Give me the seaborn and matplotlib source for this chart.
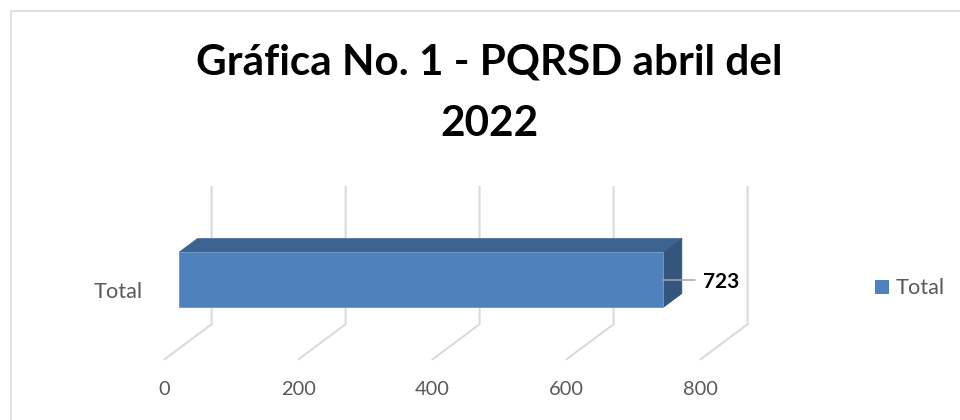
import matplotlib
matplotlib.use("Agg")
import matplotlib.pyplot as plt
import seaborn as sns
import pandas as pd
from matplotlib.patches import Polygon, Patch
from matplotlib.lines import Line2D

# ---------------- data ----------------
categories = ["Total"]
values = [723]
series_name = "Total"
x_ticks = [0, 200, 400, 600, 800]
title_lines = ["Gráfica No. 1 - PQRSD abril del", "2022"]

# ---------------- style ----------------
sns.set_theme(style="white")
plt.rcParams["font.family"] = ["Lato", "DejaVu Sans"]

FRONT = "#4F81BD"
TOP = "#3D6490"
SIDE = "#33557E"
EDGE = "#7098CC"
GRID = "#D9D9D9"
TXT = "#595959"

W, H = 960, 420
fig = plt.figure(figsize=(W / 100, H / 100), dpi=100)
fig.patch.set_facecolor("white")


def fx(px):
    return px / W


def fy(py):
    return 1 - py / H


# axes = front plane of the bar (pixel layout)
AX_L, AX_R, AX_T, AX_B = 179, 715, 170, 370
ax = fig.add_axes([fx(AX_L), fy(AX_B), (AX_R - AX_L) / W, (AX_B - AX_T) / H])

df = pd.DataFrame({"cat": categories, "val": values})
sns.barplot(data=df, x="val", y="cat", orient="h", color=FRONT, width=0.8,
            saturation=1, edgecolor=EDGE, linewidth=0.7, ax=ax, zorder=3)

ax.set_xlim(x_ticks[0], x_ticks[-1])
Y0, YS = 279.8, 68.75  # pixel row of category centre, pixels per category unit
ax.set_ylim((AX_B - Y0) / YS, (AX_T - Y0) / YS)
ax.axis("off")

XS = (AX_R - AX_L) / (x_ticks[-1] - x_ticks[0])  # pixels per value unit
DXD = -47.3 / XS   # depth displacement (value units) per unit depth toward viewer
DYD = 35.3 / YS    # depth displacement (category units, downward)
D_FRONT, D_BACK = 0.69, 0.30


def P(v, y, d):
    return (v + (d - D_FRONT) * DXD, y + (d - D_FRONT) * DYD)


# back wall gridlines + floor lines
for t in x_ticks:
    pts = [P(t, -1, 0), P(t, 1, 0), P(t, 1, 1)]
    xs, ys = zip(*pts)
    ax.plot(xs, ys, color=GRID, lw=1.4, zorder=0, clip_on=False,
            solid_joinstyle="miter")

# 3D faces of the bar, derived from seaborn's bar
for rect in ax.patches:
    x0, w = rect.get_x(), rect.get_width()
    ya, yb = rect.get_y(), rect.get_y() + rect.get_height()
    ytop, ybot = min(ya, yb), max(ya, yb)
    top = Polygon([P(x0, ytop, D_FRONT), P(x0 + w, ytop, D_FRONT),
                   P(x0 + w, ytop, D_BACK), P(x0, ytop, D_BACK)],
                  closed=True, facecolor=TOP, edgecolor=TOP, lw=0.5,
                  zorder=2, clip_on=False)
    side = Polygon([P(x0 + w, ytop, D_FRONT), P(x0 + w, ybot, D_FRONT),
                    P(x0 + w, ybot, D_BACK), P(x0 + w, ytop, D_BACK)],
                   closed=True, facecolor=SIDE, edgecolor=SIDE, lw=0.5,
                   zorder=2, clip_on=False)
    ax.add_patch(top)
    ax.add_patch(side)
    rect.set_clip_on(False)
    yc = (ya + yb) / 2
    # leader line and value label
    ax.plot([x0 + w, x0 + w + 32 / XS], [yc, yc], color="#A6A6A6", lw=1.1,
            zorder=4, clip_on=False)
    val_txt = ax.text(x0 + w + 40 / XS, yc + 2.5 / YS, f"{w:g}", ha="left",
                      va="center", fontsize=16, fontweight="bold",
                      color="black", clip_on=False)

# category label
cat_txts = []
for i, c in enumerate(categories):
    cx, cy = P(0, i, 1)
    cat_txts.append(ax.text(cx - 22 / XS, cy + 1 / YS, c, ha="right",
                            va="center", fontsize=15, color=TXT))

# value axis tick labels
tick_txts = []
for t in x_ticks:
    px, py = P(t, 1, 1)
    tick_txts.append(ax.text(px, py + 30 / YS, f"{t}", ha="center",
                             va="center", fontsize=15, color=TXT,
                             clip_on=False))

# title
t1 = fig.text(fx(489.5), fy(75), title_lines[0], ha="center", va="baseline",
              fontsize=30, fontweight="bold", color="black")
t2 = fig.text(fx(490), fy(136), title_lines[1], ha="center", va="baseline",
              fontsize=30, fontweight="bold", color="black")

# legend
leg = fig.legend(handles=[Patch(facecolor=FRONT, edgecolor="none")],
                 labels=[series_name], loc="center left",
                 bbox_to_anchor=(fx(875), fy(288)), frameon=False,
                 handlelength=0.65, handleheight=0.65, handletextpad=0.35,
                 borderaxespad=0, borderpad=0, fontsize=15,
                 labelcolor=TXT)

# chart-area border (top and left visible)
fig.add_artist(Line2D([fx(10.5), 1], [fy(10.5), fy(10.5)],
                      transform=fig.transFigure, color=GRID, lw=1.1))
fig.add_artist(Line2D([fx(10.5), fx(10.5)], [fy(10.5), 0],
                      transform=fig.transFigure, color=GRID, lw=1.1))

# fit font sizes to measured widths
r = fig.canvas.get_renderer()


def fit(txt, target):
    w = txt.get_window_extent(r).width
    txt.set_fontsize(txt.get_fontsize() * target / w)
    return txt.get_fontsize()


fs_title = fit(t1, 585)
t2.set_fontsize(fs_title)
fs_tick = fit(tick_txts[1], 35)
for tt in tick_txts:
    tt.set_fontsize(fs_tick)
fs_cat = fit(cat_txts[0], 49)
for tt in leg.get_texts():
    tt.set_fontsize(fs_cat)
fit(val_txt, 36)

fig.savefig("out.png", dpi=100, facecolor="white")
